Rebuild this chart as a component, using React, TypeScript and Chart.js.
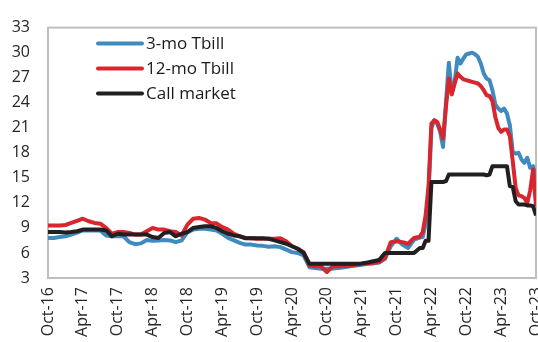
import { useEffect, useRef } from 'react';
import { Chart, registerables } from 'chart.js';

Chart.register(...registerables);

// Tick labels every six months, starting Oct-2016
const tickLabels = [
  'Oct-16', 'Apr-17', 'Oct-17', 'Apr-18', 'Oct-18', 'Apr-19', 'Oct-19', 'Apr-20',
  'Oct-20', 'Apr-21', 'Oct-21', 'Apr-22', 'Oct-22', 'Apr-23', 'Oct-23',
];

// Observation times in months since Oct-2016 (monthly, then half-monthly from mid-2022)
const months = [
  0, 1, 2, 3, 4, 5, 6, 7, 8, 9, 10, 11, 12, 13, 14, 15, 16, 17, 18, 19,
  20, 21, 22, 23, 24, 25, 26, 27, 28, 29, 30, 31, 32, 33, 34, 35, 36, 37, 38, 39,
  40, 41, 42, 43, 44, 45, 46, 47, 48, 49, 50, 51, 52, 53, 54, 55, 56, 57, 58, 59,
  60, 61, 62, 63, 64,
  64.5, 65, 65.5, 66, 66.5, 67, 67.5, 68, 68.5, 69,
  69.5, 70, 70.5, 71, 71.5, 72, 72.5, 73, 73.5, 74,
  74.5, 75, 75.5, 76, 76.5, 77, 77.5, 78, 78.5, 79,
  79.5, 80, 80.5, 81, 81.5, 82, 82.5, 83, 83.5, 84,
];

// 3-month treasury bill rate, %
const tbill3m = [
  7.8, 7.8, 7.9, 8.0, 8.2, 8.45, 8.7, 8.7, 8.7, 8.7, 8.1, 8.0, 8.0, 8.0, 7.3, 7.05, 7.15, 7.55, 7.45, 7.5,
  7.55, 7.5, 7.3, 7.5, 8.5, 8.8, 8.9, 8.9, 8.8, 8.7, 8.3, 7.8, 7.5, 7.2, 7.0, 7.0, 6.9, 6.85, 6.75, 6.8,
  6.7, 6.4, 6.1, 6.0, 5.7, 4.3, 4.2, 4.1, 4.1, 4.15, 4.2, 4.3, 4.4, 4.5, 4.6, 4.7, 4.75, 4.85, 5.3, 6.8,
  7.7, 7.0, 6.6, 7.6, 7.85,
  7.9, 9.5, 13.0, 21.0, 21.9, 21.5, 20.5, 18.7, 24.0, 28.8,
  25.2, 26.5, 29.4, 28.7, 29.3, 29.8, 29.9, 30.0, 29.8, 29.5,
  28.7, 27.5, 26.9, 26.7, 25.5, 23.8, 23.3, 23.0, 23.3, 22.7,
  21.3, 18.1, 17.9, 18.0, 17.2, 16.8, 17.4, 16.2, 16.4, 15.0,
];

// 12-month treasury bill rate, %
const tbill12m = [
  9.3, 9.3, 9.3, 9.35, 9.6, 9.85, 10.1, 9.8, 9.6, 9.5, 9.0, 8.3, 8.5, 8.5, 8.4, 8.2, 8.2, 8.6, 9.0, 8.8,
  8.8, 8.6, 8.5, 8.1, 9.4, 10.1, 10.2, 10.0, 9.6, 9.55, 9.1, 8.8, 8.3, 8.0, 7.8, 7.75, 7.7, 7.7, 7.7, 7.7,
  7.75, 7.4, 6.8, 6.5, 6.1, 4.5, 4.4, 4.4, 3.7, 4.4, 4.4, 4.45, 4.5, 4.6, 4.7, 4.75, 4.8, 4.9, 5.4, 7.3,
  7.4, 7.3, 7.1, 7.8, 7.95,
  8.5, 10.5, 14.0, 21.5, 21.9, 21.7, 20.8, 19.7, 23.5, 26.9,
  25.0, 26.3, 27.5, 27.1, 26.8, 26.7, 26.6, 26.5, 26.4, 26.3,
  26.0, 25.5, 24.9, 24.8, 24.2, 22.3, 21.0, 20.5, 20.8, 20.8,
  20.0, 17.0, 13.8, 12.9, 12.8, 12.6, 12.0, 13.5, 16.0, 11.6,
];

// Interbank call money rate, %
const callMarket = [
  8.5, 8.5, 8.5, 8.45, 8.5, 8.6, 8.8, 8.8, 8.8, 8.8, 8.7, 8.0, 8.3, 8.2, 8.2, 8.2, 8.2, 8.2, 7.9, 7.8,
  8.4, 8.5, 8.0, 8.3, 8.5, 9.0, 9.1, 9.2, 9.2, 9.0, 8.6, 8.3, 8.1, 8.0, 7.75, 7.75, 7.75, 7.75, 7.7, 7.5,
  7.3, 7.1, 6.8, 6.5, 6.0, 4.7, 4.7, 4.7, 4.7, 4.7, 4.7, 4.7, 4.7, 4.7, 4.75, 4.85, 5.0, 5.15, 6.0, 6.0,
  6.0, 6.0, 6.0, 6.0, 6.6,
  6.6, 7.45, 7.45, 14.5, 14.5, 14.5, 14.5, 14.5, 14.6, 15.4,
  15.4, 15.4, 15.4, 15.4, 15.4, 15.4, 15.4, 15.4, 15.4, 15.4,
  15.4, 15.4, 15.3, 15.4, 16.4, 16.4, 16.4, 16.4, 16.4, 16.4,
  14.0, 13.9, 12.2, 11.8, 11.8, 11.8, 11.7, 11.7, 11.6, 10.5,
];

const seriesNames = ['3-mo Tbill', '12-mo Tbill', 'Call market'];
const seriesColors = ['#3F8BBF', '#D7262E', '#231F20'];

const FONT = "'Open Sans', 'Noto Sans', sans-serif";

const toPoints = (ys: number[]) => ys.map((y, i) => ({ x: months[i], y }));

// Grey frame around the plotting area
const framePlugin = {
  id: 'frame',
  beforeDatasetsDraw(chart: any) {
    const { ctx, chartArea } = chart;
    ctx.save();
    ctx.strokeStyle = '#BFBFBF';
    ctx.lineWidth = 2;
    ctx.strokeRect(chartArea.left, chartArea.top, chartArea.right - chartArea.left, chartArea.bottom - chartArea.top);
    ctx.restore();
  },
};

// Legend drawn inside the plot, upper left
const insideLegendPlugin = {
  id: 'insideLegend',
  afterDatasetsDraw(chart: any) {
    const { ctx, chartArea } = chart;
    ctx.save();
    ctx.font = `17px ${FONT}`;
    ctx.textBaseline = 'middle';
    ctx.textAlign = 'left';
    chart.data.datasets.forEach((ds: any, i: number) => {
      const y = chartArea.top + 16 + i * 25;
      const x0 = chartArea.left + 50;
      ctx.strokeStyle = ds.borderColor;
      ctx.lineWidth = 4;
      ctx.lineCap = 'round';
      ctx.beginPath();
      ctx.moveTo(x0, y);
      ctx.lineTo(x0 + 44, y);
      ctx.stroke();
      ctx.fillStyle = '#1A1A1A';
      ctx.fillText(ds.label, x0 + 48, y + 1);
    });
    ctx.restore();
  },
};

export default function App() {
  const canvasRef = useRef<HTMLCanvasElement | null>(null);

  useEffect(() => {
    document.body.style.margin = '0';
    const canvas = canvasRef.current;
    if (!canvas) return;

    const seriesValues = [tbill3m, tbill12m, callMarket];

    const chart = new Chart(canvas, {
      type: 'line',
      data: {
        datasets: seriesValues.map((vals, i) => ({
          label: seriesNames[i],
          data: toPoints(vals),
          borderColor: seriesColors[i],
          backgroundColor: seriesColors[i],
          borderWidth: 4,
          pointRadius: 0,
          tension: 0,
          borderJoinStyle: 'round' as const,
          fill: false,
          order: 2 - i,
        })),
      },
      options: {
        responsive: false,
        animation: false,
        layout: { padding: { top: 17, right: 2, left: 0, bottom: 0 } },
        plugins: {
          legend: { display: false },
          tooltip: { enabled: false },
          title: { display: false },
        },
        scales: {
          x: {
            type: 'linear',
            min: 0,
            max: 84,
            grid: { display: false, drawTicks: false },
            border: { display: false },
            ticks: {
              stepSize: 6,
              autoSkip: false,
              minRotation: 90,
              maxRotation: 90,
              padding: 9,
              color: '#262626',
              font: { family: FONT, size: 16 },
              callback: (v: any) => tickLabels[Math.round(Number(v) / 6)] ?? '',
            },
            afterFit: (scale: any) => {
              scale.height = 64;
              scale.paddingLeft = 0;
              scale.paddingRight = 0;
            },
          },
          y: {
            type: 'linear',
            min: 3,
            max: 33,
            grid: { display: false, drawTicks: false },
            border: { display: false },
            ticks: {
              stepSize: 3,
              padding: 18,
              color: '#262626',
              font: { family: FONT, size: 16 },
            },
            afterFit: (scale: any) => {
              scale.width = 48;
            },
          },
        },
      },
      plugins: [framePlugin, insideLegendPlugin],
    });

    return () => chart.destroy();
  }, []);

  return (
    <div style={{ width: 538, height: 342 }}>
      <canvas ref={canvasRef} width={538} height={342} />
    </div>
  );
}
